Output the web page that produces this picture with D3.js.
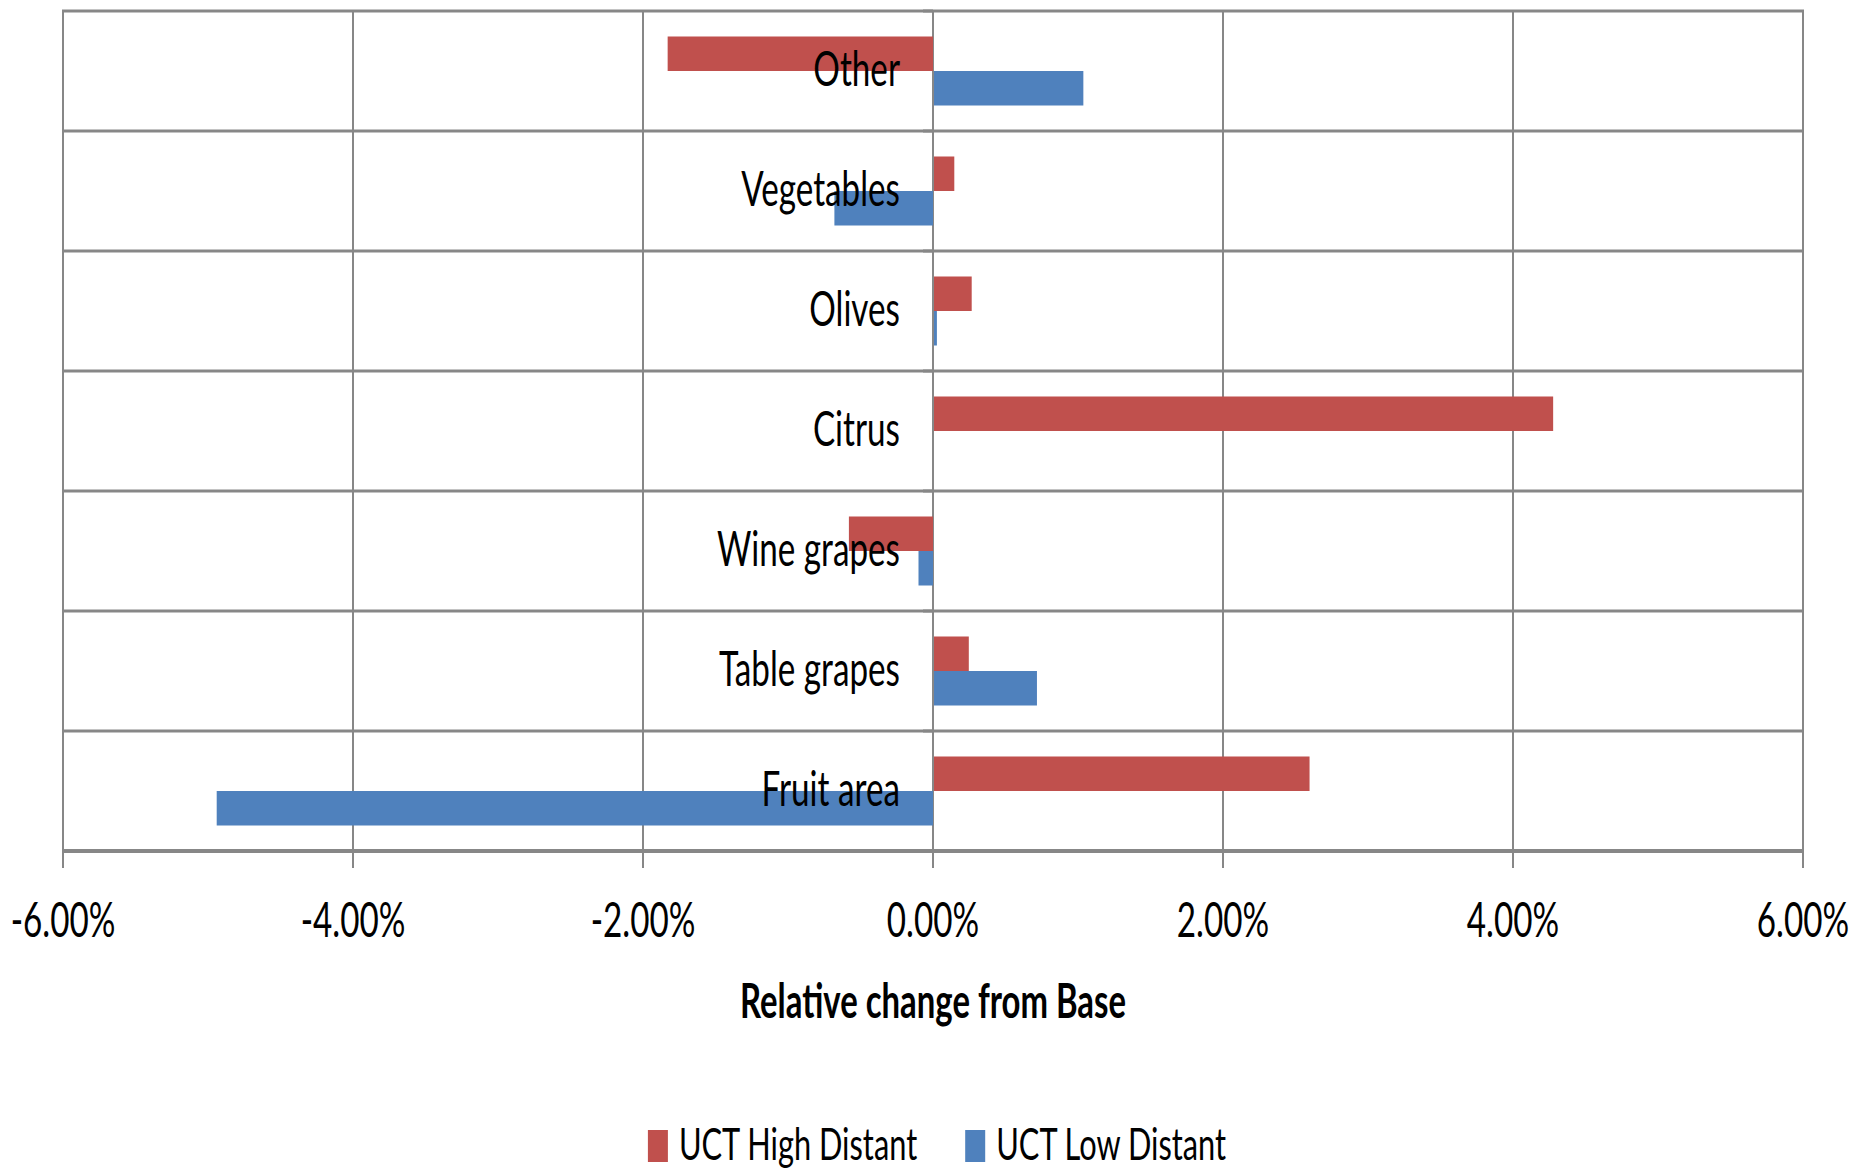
<!DOCTYPE html>
<html>
<head>
<meta charset="utf-8">
<script src="https://cdn.jsdelivr.net/npm/d3@7"></script>
<style>
  html, body { margin: 0; padding: 0; background: #ffffff; }
  svg { display: block; }
  text { font-family: Lato, "Open Sans", sans-serif; fill: #000; }
</style>
</head>
<body>
<svg id="chart" width="1872" height="1170"></svg>
<script>
// Crop categories, drawn top to bottom
const categories = ["Other", "Vegetables", "Olives", "Citrus", "Wine grapes", "Table grapes", "Fruit area"];
// Relative change from Base, in percent
const highDistant = [-1.83, 0.14, 0.26, 4.27, -0.58, 0.24, 2.59];
const lowDistant  = [1.03, -0.68, 0.02, 0.00, -0.10, 0.71, -4.94];
const seriesNames = ["UCT High Distant", "UCT Low Distant"];
const seriesColors = ["#C0504D", "#4F81BD"];
const xTicks = [-6, -4, -2, 0, 2, 4, 6];
const axisTitle = "Relative change from Base";

const svg = d3.select("#chart");
const plot = { left: 63, right: 1803, top: 11, bottom: 851 };
const GRID = "#878787";
const SX = 0.70;   // narrow text face

const x = d3.scaleLinear().domain([-6, 6]).range([plot.left, plot.right]);
const y = d3.scaleBand().domain(categories).range([plot.top, plot.bottom]).padding(0);
const inner = d3.scaleBand().domain(seriesNames).range([0, y.bandwidth()])
  .paddingInner(0).paddingOuter(0.739);

const rows = categories.map((c, i) => ({
  cat: c,
  vals: [
    { s: seriesNames[0], v: highDistant[i], color: seriesColors[0] },
    { s: seriesNames[1], v: lowDistant[i], color: seriesColors[1] }
  ]
}));

// text with horizontal compression
function label(g, str, px, py, size, anchor, weight) {
  return g.append("text")
    .attr("transform", `translate(${px},${py}) scale(${SX},1)`)
    .attr("text-anchor", anchor)
    .attr("font-size", size)
    .attr("font-weight", weight || 400)
    .text(str);
}

// vertical gridlines + tick marks below the axis
const gx = svg.append("g");
gx.selectAll("line.v").data(xTicks).join("line")
  .attr("x1", d => x(d)).attr("x2", d => x(d))
  .attr("y1", plot.top).attr("y2", plot.bottom + 17)
  .attr("stroke", GRID).attr("stroke-width", 2);

// horizontal row separators
const bounds = categories.map(c => y(c)).concat([plot.bottom]);
gx.selectAll("line.h").data(bounds).join("line")
  .attr("x1", plot.left - 1).attr("x2", plot.right + 1)
  .attr("y1", d => d).attr("y2", d => d)
  .attr("stroke", GRID).attr("stroke-width", (d, i) => i === bounds.length - 1 ? 4 : 3);

// category-axis tick stubs at the zero line
gx.selectAll("line.t").data(bounds).join("line")
  .attr("x1", x(0) - 10).attr("x2", x(0))
  .attr("y1", d => d).attr("y2", d => d)
  .attr("stroke", GRID).attr("stroke-width", 3);

// bars
const gb = svg.append("g");
const rowG = gb.selectAll("g.row").data(rows).join("g")
  .attr("transform", d => `translate(0,${y(d.cat)})`);
rowG.selectAll("rect").data(d => d.vals).join("rect")
  .attr("x", d => Math.min(x(0), x(d.v)) + (d.v >= 0 ? 1 : 0))
  .attr("width", d => Math.abs(x(d.v) - x(0)))
  .attr("y", d => inner(d.s))
  .attr("height", inner.bandwidth())
  .attr("fill", d => d.color);

// category labels, drawn over the bars
const gl = svg.append("g");
categories.forEach(c => {
  label(gl, c, x(0) - 33, y(c) + y.bandwidth() / 2 + 15, 47.5, "end");
});

// x tick labels (plain hyphen for the sign)
const pct = d3.format(".2f");
xTicks.forEach(t => {
  label(gl, pct(t).replace("\u2212", "-") + "%", x(t), 937, 47.5, "middle");
});

// axis title
label(gl, axisTitle, (plot.left + plot.right) / 2, 1018, 47, "middle", 700);

// legend
const gLeg = svg.append("g");
const items = seriesNames.map((name, i) => {
  const g = gLeg.append("g");
  g.append("rect").attr("x", 0).attr("y", -30).attr("width", 20).attr("height", 32)
    .attr("fill", seriesColors[i]);
  const t = label(g, name, 31, 0, 44, "start");
  const w = 31 + t.node().getComputedTextLength() * SX;
  return { g, w };
});
const gap = 48;
const total = d3.sum(items, d => d.w) + gap * (items.length - 1);
let cx = (plot.left + plot.right) / 2 - total / 2 + 4;
items.forEach(it => {
  it.g.attr("transform", `translate(${cx},1160)`);
  cx += it.w + gap;
});
</script>
</body>
</html>
